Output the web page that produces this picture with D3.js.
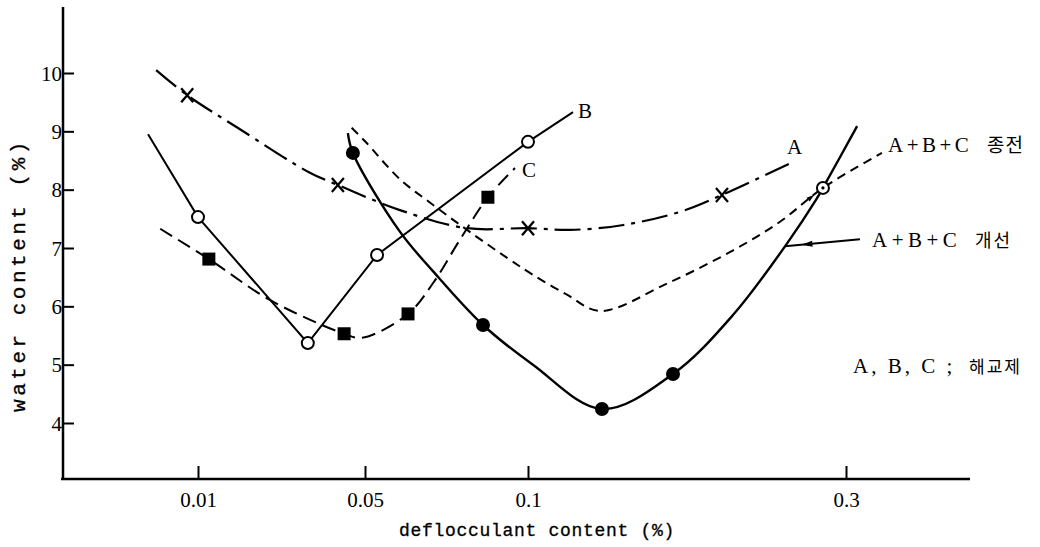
<!DOCTYPE html>
<html>
<head>
<meta charset="utf-8">
<script src="https://cdn.jsdelivr.net/npm/d3@7"></script>
<style>
body { margin: 0; background: #fff; }
svg { display: block; background: #fff; }
</style>
</head>
<body>
<svg id="chart" width="1040" height="547"></svg>
<script>
// tick values
const xTicks = [0.01, 0.05, 0.1, 0.3];
const yTicks = [4, 5, 6, 7, 8, 9, 10];

// A : dash-dot curve with x marks
const curveA = [[0.0069, 10.05], [0.0092, 9.62], [0.0193, 9.07], [0.0368, 8.29], [0.0435, 8.08],
                [0.0607, 7.65], [0.0813, 7.34], [0.1, 7.34], [0.1264, 7.31], [0.159, 7.39],
                [0.1956, 7.62], [0.222, 7.91], [0.2654, 8.46]];
const marksA = [[0.0092, 9.62], [0.0435, 8.08], [0.1, 7.34], [0.222, 7.91]];

// B : straight segments, open circles
const lineB = [[0.0063, 8.95], [0.01, 7.53], [0.0363, 5.37], [0.0537, 6.88], [0.1, 8.82], [0.1283, 9.33]];
const marksB = [[0.01, 7.53], [0.0363, 5.37], [0.0537, 6.88], [0.1, 8.82]];

// C : dashed curve, filled squares
const curveC = [[0.0072, 7.33], [0.0126, 6.81], [0.0272, 6.11], [0.045, 5.53], [0.0493, 5.46],
                [0.0632, 5.87], [0.0709, 6.40], [0.0791, 7.14], [0.0877, 7.87], [0.096, 8.37]];
const marksC = [[0.0126, 6.81], [0.045, 5.53], [0.0632, 5.87], [0.0877, 7.87]];

// A+B+C 종전 : short dashes
const curveOld = [[0.0468, 9.06], [0.05, 8.83], [0.0607, 8.18], [0.0699, 7.78], [0.0813, 7.31],
                  [0.0936, 6.83], [0.1031, 6.54], [0.1245, 6.20], [0.1453, 5.92], [0.1874, 6.39],
                  [0.229, 6.96], [0.2585, 7.45], [0.2855, 8.03], [0.3226, 8.63]];

// A+B+C 개선 : solid curve, filled circles
const curveNew = [[0.0459, 8.97], [0.0471, 8.63], [0.0607, 7.28], [0.0709, 6.60], [0.0862, 5.68],
                  [0.1031, 5.00], [0.1465, 4.24], [0.1912, 4.84], [0.2289, 5.85], [0.2635, 7.10],
                  [0.281, 7.82], [0.2855, 8.03], [0.307, 9.09]];
const marksNew = [[0.0471, 8.63], [0.0862, 5.68], [0.1465, 4.24], [0.1912, 4.84]];

// point shared by both A+B+C curves (circle with dot)
const marksBoth = [[0.2855, 8.03]];

// leader from the 개선 label to its curve
const leaderNew = [[0.3088, 7.15], [0.2616, 7.03]];
// small arrow on the 종전 curve
const arrowOld = [[0.2585, 7.45], [0.2855, 8.03]];

let chart = d3.select("#chart");
const serif = "'Liberation Serif', 'Noto Sans CJK KR', serif";
const mono = "'Liberation Mono', monospace";
const kr = "'Noto Sans CJK KR', sans-serif";

// x scale : axis spacing is not uniform, one linear piece per tick interval
let x = d3.scaleLinear()
    .domain([0, 0.01, 0.05, 0.1, 0.3, 0.378])
    .range([63, 198, 365, 528, 846, 970]);

// y scale
let y = d3.scaleLinear()
    .domain([4, 10])
    .range([423, 73]);

// x axis
let xAxis = d3.axisBottom(x)
    .tickValues(xTicks)
    .tickFormat(d => d)
    .tickSizeInner(-13)
    .tickSizeOuter(0)
    .tickPadding(13);
let xAxisGroup = chart.append("g")
    .attr("transform", "translate(0,479)")
    .call(xAxis);
xAxisGroup.select(".domain").remove();
xAxisGroup.selectAll("line").attr("stroke", "#000").attr("stroke-width", 2);
xAxisGroup.selectAll("text")
    .attr("fill", "#000")
    .style("font-family", serif)
    .style("font-size", "21px");

// y axis
let yAxis = d3.axisLeft(y)
    .tickValues(yTicks)
    .tickFormat(d => d)
    .tickSizeInner(-11)
    .tickSizeOuter(0)
    .tickPadding(1);
let yAxisGroup = chart.append("g")
    .attr("transform", "translate(63,0)")
    .call(yAxis);
yAxisGroup.select(".domain").remove();
yAxisGroup.selectAll("line").attr("stroke", "#000").attr("stroke-width", 2);
yAxisGroup.selectAll("text")
    .attr("fill", "#000")
    .attr("dy", "0.34em")
    .style("font-family", serif)
    .style("font-size", "21px");

// axis lines
chart.append("line")
    .attr("x1", 61).attr("x2", 970)
    .attr("y1", 479).attr("y2", 479)
    .attr("stroke", "#000").attr("stroke-width", 2.5);
chart.append("line")
    .attr("x1", 63).attr("x2", 63)
    .attr("y1", 7).attr("y2", 480)
    .attr("stroke", "#000").attr("stroke-width", 2.5);

// axis titles
chart.append("text")
    .text("deflocculant content (%)")
    .attr("x", 537)
    .attr("y", 536)
    .attr("text-anchor", "middle")
    .attr("stroke", "#000")
    .attr("stroke-width", 0.3)
    .style("font-family", mono)
    .style("font-size", "18px")
    .style("letter-spacing", "0.7px");
chart.append("text")
    .text("water content (%)")
    .attr("transform", "translate(25,275) rotate(-90)")
    .attr("text-anchor", "middle")
    .attr("stroke", "#000")
    .attr("stroke-width", 0.3)
    .style("font-family", mono)
    .style("font-size", "21px")
    .style("letter-spacing", "3.5px");

// line generators
let smooth = d3.line()
    .x(d => x(d[0]))
    .y(d => y(d[1]))
    .curve(d3.curveCatmullRom.alpha(0.5));
let straight = d3.line()
    .x(d => x(d[0]))
    .y(d => y(d[1]));

// A+B+C 종전
chart.append("path")
    .datum(curveOld)
    .attr("fill", "none")
    .attr("stroke", "#000")
    .attr("stroke-width", 2)
    .attr("stroke-dasharray", "9,6")
    .attr("d", smooth);

// A+B+C 개선
chart.append("path")
    .datum(curveNew)
    .attr("fill", "none")
    .attr("stroke", "#000")
    .attr("stroke-width", 2.4)
    .attr("d", smooth);

// A
chart.append("path")
    .datum(curveA)
    .attr("fill", "none")
    .attr("stroke", "#000")
    .attr("stroke-width", 2.2)
    .attr("stroke-dasharray", "26,7,4,7")
    .attr("d", smooth);

// B
chart.append("path")
    .datum(lineB)
    .attr("fill", "none")
    .attr("stroke", "#000")
    .attr("stroke-width", 2)
    .attr("d", straight);

// C
chart.append("path")
    .datum(curveC)
    .attr("fill", "none")
    .attr("stroke", "#000")
    .attr("stroke-width", 2)
    .attr("stroke-dasharray", "14,7")
    .attr("d", smooth);

// markers A : x
chart.selectAll(".markA")
    .data(marksA)
    .enter().append("path")
    .attr("class", "markA")
    .attr("transform", d => "translate(" + x(d[0]) + "," + y(d[1]) + ")")
    .attr("d", "M-6,-7L6,7M-6,7L6,-7")
    .attr("stroke", "#000")
    .attr("stroke-width", 2.3)
    .attr("fill", "none");

// markers B : open circles
chart.selectAll(".markB")
    .data(marksB)
    .enter().append("circle")
    .attr("class", "markB")
    .attr("cx", d => x(d[0]))
    .attr("cy", d => y(d[1]))
    .attr("r", 6)
    .attr("fill", "#fff")
    .attr("stroke", "#000")
    .attr("stroke-width", 2);

// markers C : squares
chart.selectAll(".markC")
    .data(marksC)
    .enter().append("rect")
    .attr("class", "markC")
    .attr("x", d => x(d[0]) - 6.5)
    .attr("y", d => y(d[1]) - 6.5)
    .attr("width", 13)
    .attr("height", 13)
    .attr("fill", "#000");

// markers 개선 : filled circles
chart.selectAll(".markNew")
    .data(marksNew)
    .enter().append("circle")
    .attr("class", "markNew")
    .attr("cx", d => x(d[0]))
    .attr("cy", d => y(d[1]))
    .attr("r", 7)
    .attr("fill", "#000");

// shared point : circle with a dot
chart.selectAll(".markBoth")
    .data(marksBoth)
    .enter().append("circle")
    .attr("class", "markBoth")
    .attr("cx", d => x(d[0]))
    .attr("cy", d => y(d[1]))
    .attr("r", 6)
    .attr("fill", "#fff")
    .attr("stroke", "#000")
    .attr("stroke-width", 2);
chart.selectAll(".dotBoth")
    .data(marksBoth)
    .enter().append("circle")
    .attr("class", "dotBoth")
    .attr("cx", d => x(d[0]))
    .attr("cy", d => y(d[1]))
    .attr("r", 1.6)
    .attr("fill", "#000");

// arrow head helper (tip at t along p0 -> p1)
function arrowHead(p0, p1, t, len, half) {
    let x0 = x(p0[0]), y0 = y(p0[1]), x1 = x(p1[0]), y1 = y(p1[1]);
    let dx = x1 - x0, dy = y1 - y0, l = Math.sqrt(dx * dx + dy * dy);
    let ux = dx / l, uy = dy / l;
    let tx = x0 + dx * t, ty = y0 + dy * t;
    let bx = tx - ux * len, by = ty - uy * len;
    return "M" + tx + "," + ty + "L" + (bx - uy * half) + "," + (by + ux * half) +
           "L" + (bx + uy * half) + "," + (by - ux * half) + "Z";
}

// leader line for 개선
chart.append("path")
    .datum(leaderNew)
    .attr("fill", "none")
    .attr("stroke", "#000")
    .attr("stroke-width", 1.8)
    .attr("d", straight);
chart.append("path")
    .attr("d", arrowHead(leaderNew[0], leaderNew[1], 0.78, 11, 3))
    .attr("fill", "#000");

// small arrow on 종전 curve
chart.append("path")
    .attr("d", arrowHead(arrowOld[0], arrowOld[1], 0.8, 8, 2.5))
    .attr("fill", "#000");

// series labels
let last = arr => arr[arr.length - 1];
chart.append("text")
    .text("B")
    .attr("x", x(last(lineB)[0]) + 5)
    .attr("y", y(last(lineB)[1]) + 6)
    .style("font-family", serif)
    .style("font-size", "21px");
chart.append("text")
    .text("C")
    .attr("x", x(last(curveC)[0]) + 7)
    .attr("y", y(last(curveC)[1]) + 9)
    .style("font-family", serif)
    .style("font-size", "21px");
chart.append("text")
    .text("A")
    .attr("x", x(last(curveA)[0]) - 4)
    .attr("y", y(last(curveA)[1]) - 9)
    .style("font-family", serif)
    .style("font-size", "21px");

// A+B+C 종전 label
let oldLabel = chart.append("text")
    .attr("x", 888)
    .attr("y", 152)
    .style("font-family", serif)
    .style("font-size", "21px");
oldLabel.append("tspan").text("A+B+C").style("letter-spacing", "3.5px");
oldLabel.append("tspan").text("종전")
    .attr("x", 987)
    .style("font-family", kr)
    .style("font-size", "19px")
    .style("letter-spacing", "1px");

// A+B+C 개선 label
let newLabel = chart.append("text")
    .attr("x", 872)
    .attr("y", 247)
    .style("font-family", serif)
    .style("font-size", "21px");
newLabel.append("tspan").text("A+B+C").style("letter-spacing", "4.5px");
newLabel.append("tspan").text("개선")
    .attr("x", 975)
    .style("font-family", kr)
    .style("font-size", "18px")
    .style("letter-spacing", "2px");

// note
let note = chart.append("text")
    .attr("x", 853)
    .attr("y", 373)
    .style("font-family", serif)
    .style("font-size", "21px");
note.append("tspan").text("A, B, C ;").style("letter-spacing", "3px");
note.append("tspan").text("해교제")
    .attr("x", 969)
    .style("font-family", kr)
    .style("font-size", "17px")
    .style("letter-spacing", "2px");
</script>
</body>
</html>
